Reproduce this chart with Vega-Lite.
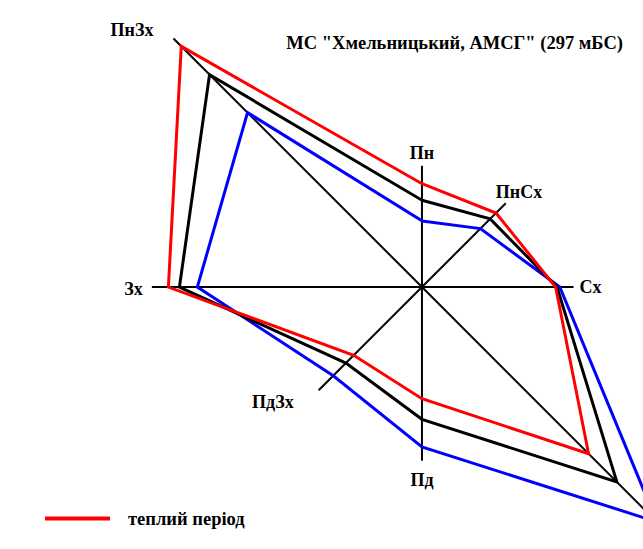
{
  "$schema": "https://vega.github.io/schema/vega-lite/v6.json",
  "width": 643,
  "height": 549,
  "autosize": "none",
  "padding": 0,
  "background": "white",
  "config": {"view": {"stroke": null}, "font": "Liberation Serif"},
  "title": {
    "text": "МС \"Хмельницький, АМСГ\" (297 мБС)",
    "orient": "top",
    "anchor": "end",
    "frame": "group",
    "offset": 0,
    "dx": -20,
    "dy": 67,
    "baseline": "alphabetic",
    "font": "Liberation Serif",
    "fontSize": 18.5,
    "fontWeight": "bold",
    "color": "black"
  },
  "datasets": {
    "rose": [
      {"period": "холодний період", "dir": "Пн", "i": 0, "value": 4.8},
      {"period": "холодний період", "dir": "ПнСх", "i": 1, "value": 6.0},
      {"period": "холодний період", "dir": "Сх", "i": 2, "value": 10.0},
      {"period": "холодний період", "dir": "ПдСх", "i": 3, "value": 24.1},
      {"period": "холодний період", "dir": "Пд", "i": 4, "value": 11.6},
      {"period": "холодний період", "dir": "ПдЗх", "i": 5, "value": 9.1},
      {"period": "холодний період", "dir": "Зх", "i": 6, "value": 16.3},
      {"period": "холодний період", "dir": "ПнЗх", "i": 7, "value": 17.9},
      {"period": "рік", "dir": "Пн", "i": 0, "value": 6.3},
      {"period": "рік", "dir": "ПнСх", "i": 1, "value": 7.0},
      {"period": "рік", "dir": "Сх", "i": 2, "value": 9.8},
      {"period": "рік", "dir": "ПдСх", "i": 3, "value": 20.0},
      {"period": "рік", "dir": "Пд", "i": 4, "value": 9.6},
      {"period": "рік", "dir": "ПдЗх", "i": 5, "value": 7.8},
      {"period": "рік", "dir": "Зх", "i": 6, "value": 17.6},
      {"period": "рік", "dir": "ПнЗх", "i": 7, "value": 21.8},
      {"period": "теплий період", "dir": "Пн", "i": 0, "value": 7.5},
      {"period": "теплий період", "dir": "ПнСх", "i": 1, "value": 7.6},
      {"period": "теплий період", "dir": "Сх", "i": 2, "value": 9.7},
      {"period": "теплий період", "dir": "ПдСх", "i": 3, "value": 17.1},
      {"period": "теплий період", "dir": "Пд", "i": 4, "value": 8.1},
      {"period": "теплий період", "dir": "ПдЗх", "i": 5, "value": 7.0},
      {"period": "теплий період", "dir": "Зх", "i": 6, "value": 18.4},
      {"period": "теплий період", "dir": "ПнЗх", "i": 7, "value": 24.7}
    ],
    "axes": [
      {"dir": "Пн", "i": 0, "len": 8.8},
      {"dir": "ПнСх", "i": 1, "len": 8.6},
      {"dir": "Сх", "i": 2, "len": 11.0},
      {"dir": "ПдСх", "i": 3, "len": 25.5},
      {"dir": "Пд", "i": 4, "len": 12.6},
      {"dir": "ПдЗх", "i": 5, "len": 10.6},
      {"dir": "Зх", "i": 6, "len": 19.6},
      {"dir": "ПнЗх", "i": 7, "len": 25.5}
    ]
  },
  "layer": [
    {
      "data": {"name": "axes"},
      "transform": [
        {"calculate": "datum.len * sin(datum.i * PI / 4)", "as": "ax"},
        {"calculate": "datum.len * cos(datum.i * PI / 4)", "as": "ay"}
      ],
      "mark": {"type": "rule", "color": "black", "strokeWidth": 2},
      "encoding": {
        "x": {"field": "ax", "type": "quantitative", "scale": {"domain": [-30.62, 16.04], "nice": false, "zero": false}, "axis": null},
        "y": {"field": "ay", "type": "quantitative", "scale": {"domain": [-19.01, 20.83], "nice": false, "zero": false}, "axis": null},
        "x2": {"datum": 0},
        "y2": {"datum": 0}
      }
    },
    {
      "data": {"name": "rose"},
      "transform": [
        {"calculate": "datum.value * sin(datum.i * PI / 4)", "as": "px"},
        {"calculate": "datum.value * cos(datum.i * PI / 4)", "as": "py"}
      ],
      "mark": {"type": "line", "interpolate": "linear-closed", "strokeWidth": 3},
      "encoding": {
        "x": {"field": "px", "type": "quantitative", "scale": {"domain": [-30.62, 16.04], "nice": false, "zero": false}, "axis": null},
        "y": {"field": "py", "type": "quantitative", "scale": {"domain": [-19.01, 20.83], "nice": false, "zero": false}, "axis": null},
        "order": {"field": "i", "type": "quantitative"},
        "color": {
          "field": "period",
          "type": "nominal",
          "sort": null,
          "scale": {"domain": ["теплий період", "холодний період", "рік"], "range": ["#ff0000", "#0000ff", "#000000"]},
          "legend": {
            "orient": "none",
            "legendX": 43,
            "legendY": 484,
            "title": null,
            "values": ["теплий період"],
            "symbolType": "stroke",
            "symbolSize": 4225,
            "symbolStrokeWidth": 4,
            "labelFont": "Liberation Serif",
            "labelFontSize": 18.5,
            "labelFontWeight": "bold",
            "labelColor": "black",
            "labelOffset": 16,
            "padding": 0
          }
        }
      }
    },
    {
      "data": {"name": "axes"},
      "transform": [
        {"filter": "datum.dir === 'Пн'"},
        {"calculate": "datum.len * sin(datum.i * PI / 4)", "as": "ax"},
        {"calculate": "datum.len * cos(datum.i * PI / 4)", "as": "ay"}
      ],
      "mark": {"type": "text", "align": "center", "baseline": "middle", "dy": -12, "font": "Liberation Serif", "fontSize": 18, "fontWeight": "bold", "color": "black"},
      "encoding": {"x": {"field": "ax", "type": "quantitative"}, "y": {"field": "ay", "type": "quantitative"}, "text": {"field": "dir", "type": "nominal"}}
    },
    {
      "data": {"name": "axes"},
      "transform": [
        {"filter": "datum.dir === 'ПнСх'"},
        {"calculate": "datum.len * sin(datum.i * PI / 4)", "as": "ax"},
        {"calculate": "datum.len * cos(datum.i * PI / 4)", "as": "ay"}
      ],
      "mark": {"type": "text", "align": "left", "baseline": "middle", "dx": -10, "dy": -10, "font": "Liberation Serif", "fontSize": 18, "fontWeight": "bold", "color": "black"},
      "encoding": {"x": {"field": "ax", "type": "quantitative"}, "y": {"field": "ay", "type": "quantitative"}, "text": {"field": "dir", "type": "nominal"}}
    },
    {
      "data": {"name": "axes"},
      "transform": [
        {"filter": "datum.dir === 'Сх'"},
        {"calculate": "datum.len * sin(datum.i * PI / 4)", "as": "ax"},
        {"calculate": "datum.len * cos(datum.i * PI / 4)", "as": "ay"}
      ],
      "mark": {"type": "text", "align": "left", "baseline": "middle", "dx": 6, "dy": 1, "font": "Liberation Serif", "fontSize": 18, "fontWeight": "bold", "color": "black"},
      "encoding": {"x": {"field": "ax", "type": "quantitative"}, "y": {"field": "ay", "type": "quantitative"}, "text": {"field": "dir", "type": "nominal"}}
    },
    {
      "data": {"name": "axes"},
      "transform": [
        {"filter": "datum.dir === 'Пд'"},
        {"calculate": "datum.len * sin(datum.i * PI / 4)", "as": "ax"},
        {"calculate": "datum.len * cos(datum.i * PI / 4)", "as": "ay"}
      ],
      "mark": {"type": "text", "align": "center", "baseline": "middle", "dy": 20, "font": "Liberation Serif", "fontSize": 18, "fontWeight": "bold", "color": "black"},
      "encoding": {"x": {"field": "ax", "type": "quantitative"}, "y": {"field": "ay", "type": "quantitative"}, "text": {"field": "dir", "type": "nominal"}}
    },
    {
      "data": {"name": "axes"},
      "transform": [
        {"filter": "datum.dir === 'ПдЗх'"},
        {"calculate": "datum.len * sin(datum.i * PI / 4)", "as": "ax"},
        {"calculate": "datum.len * cos(datum.i * PI / 4)", "as": "ay"}
      ],
      "mark": {"type": "text", "align": "right", "baseline": "middle", "dx": -25, "dy": 13, "font": "Liberation Serif", "fontSize": 18, "fontWeight": "bold", "color": "black"},
      "encoding": {"x": {"field": "ax", "type": "quantitative"}, "y": {"field": "ay", "type": "quantitative"}, "text": {"field": "dir", "type": "nominal"}}
    },
    {
      "data": {"name": "axes"},
      "transform": [
        {"filter": "datum.dir === 'Зх'"},
        {"calculate": "datum.len * sin(datum.i * PI / 4)", "as": "ax"},
        {"calculate": "datum.len * cos(datum.i * PI / 4)", "as": "ay"}
      ],
      "mark": {"type": "text", "align": "right", "baseline": "middle", "dx": -9, "dy": 3, "font": "Liberation Serif", "fontSize": 18, "fontWeight": "bold", "color": "black"},
      "encoding": {"x": {"field": "ax", "type": "quantitative"}, "y": {"field": "ay", "type": "quantitative"}, "text": {"field": "dir", "type": "nominal"}}
    },
    {
      "data": {"name": "axes"},
      "transform": [
        {"filter": "datum.dir === 'ПнЗх'"},
        {"calculate": "datum.len * sin(datum.i * PI / 4)", "as": "ax"},
        {"calculate": "datum.len * cos(datum.i * PI / 4)", "as": "ay"}
      ],
      "mark": {"type": "text", "align": "right", "baseline": "middle", "dx": -20, "dy": -8, "font": "Liberation Serif", "fontSize": 18, "fontWeight": "bold", "color": "black"},
      "encoding": {"x": {"field": "ax", "type": "quantitative"}, "y": {"field": "ay", "type": "quantitative"}, "text": {"field": "dir", "type": "nominal"}}
    }
  ]
}
